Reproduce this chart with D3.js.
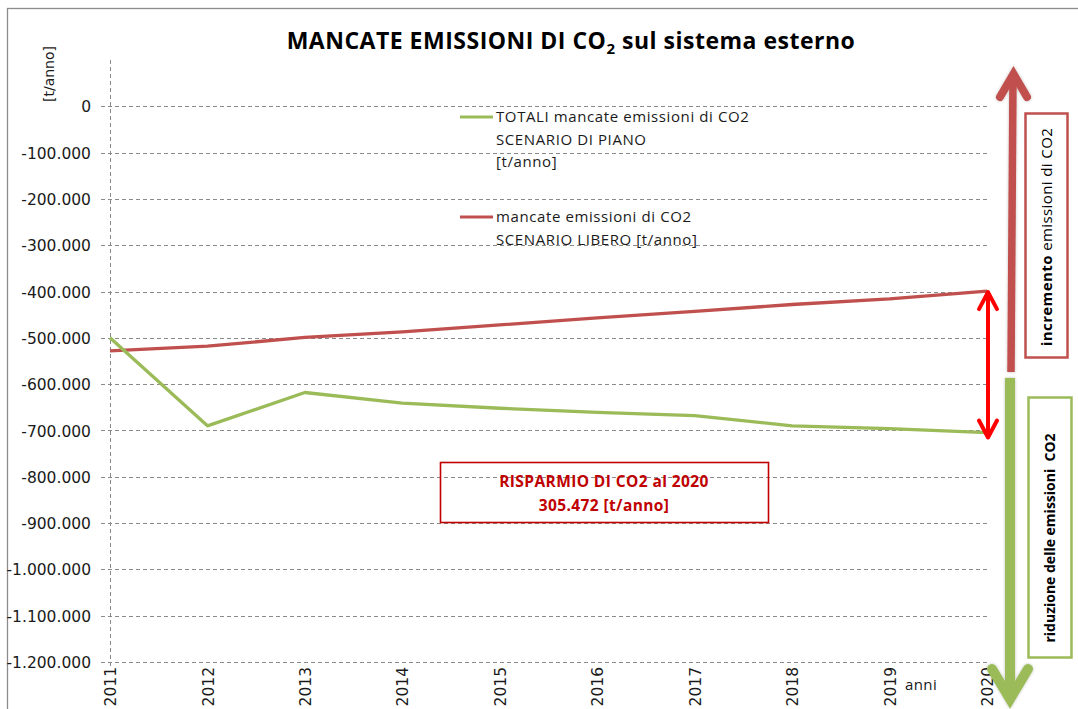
<!DOCTYPE html>
<html>
<head>
<meta charset="utf-8">
<script src="https://cdn.jsdelivr.net/npm/d3@7"></script>
<style>
  html, body { margin: 0; padding: 0; background: #fff; }
  svg { display: block; }
</style>
</head>
<body>
<svg id="chart" width="1078" height="709"></svg>
<script>
// Years on the horizontal axis
const years = [2011, 2012, 2013, 2014, 2015, 2016, 2017, 2018, 2019, 2020];
// Avoided CO2 emissions, plan scenario (t/year)
const pianoValues = [-500000, -690000, -618000, -641000, -652000, -661000, -668000, -690000, -696000, -704472];
// Avoided CO2 emissions, free scenario (t/year)
const liberoValues = [-528000, -518000, -499000, -487000, -472000, -457000, -443000, -428000, -416000, -399000];
// Y tick values
const yTicks = [0, -100000, -200000, -300000, -400000, -500000, -600000, -700000, -800000, -900000, -1000000, -1100000, -1200000];
// Legend entries
const legendPiano = ["TOTALI mancate emissioni di CO2", "SCENARIO DI PIANO", "[t/anno]"];
const legendLibero = ["mancate emissioni di CO2", "SCENARIO LIBERO [t/anno]"];
const savingsLabel = "RISPARMIO DI CO2 al 2020";

const GREEN = "#9bbb59", RED = "#c0504d", BRIGHT_RED = "#ff0000", DARK_RED = "#c00000";
const LABEL_FONT = "DejaVu Sans, Verdana, sans-serif";
const TEXT_FONT = "'Open Sans', Lato, sans-serif";

const it = d3.formatLocale({ decimal: ",", thousands: ".", grouping: [3], currency: ["", " €"], minus: "-" });
const fmt = it.format(",d");

const svg = d3.select("#chart");

// outer frame
svg.append("rect").attr("x", 7.5).attr("y", 8.5).attr("width", 1100).attr("height", 800)
  .attr("fill", "none").attr("stroke", "#8c8c8c").attr("stroke-width", 1.3);

const x = d3.scaleLinear().domain([2011, 2020]).range([110, 987]);
const y = d3.scaleLinear().domain([-1200000, 100000]).range([662, 60]);

// title
const title = svg.append("text").attr("x", 571).attr("y", 49).attr("text-anchor", "middle")
  .attr("font-family", TEXT_FONT).attr("font-weight", "bold").attr("font-size", 23)
  .attr("letter-spacing", 0.5).attr("fill", "#000");
title.append("tspan").text("MANCATE EMISSIONI DI CO");
title.append("tspan").attr("font-size", 15).attr("dy", 5).text("2");
title.append("tspan").attr("dy", -5).text(" sul sistema esterno");

// horizontal gridlines
const grid = svg.append("g");
grid.selectAll("line").data(yTicks).join("line")
  .attr("x1", 101).attr("x2", x(2020))
  .attr("y1", d => Math.round(y(d)) + 0.5).attr("y2", d => Math.round(y(d)) + 0.5)
  .attr("stroke", "#8a8a8a").attr("stroke-width", 1).attr("stroke-dasharray", "4,3");

// vertical axis line (dashed)
svg.append("line").attr("x1", x(2011) + 0.5).attr("x2", x(2011) + 0.5)
  .attr("y1", y(100000)).attr("y2", y(-1200000) + 6)
  .attr("stroke", "#8a8a8a").attr("stroke-width", 1).attr("stroke-dasharray", "4,3");

// y tick labels
const yAxis = d3.axisLeft(y).tickValues(yTicks).tickFormat(fmt).tickSize(0).tickPadding(0);
const ya = svg.append("g").attr("transform", "translate(91,0)").call(yAxis);
ya.select(".domain").remove();
ya.selectAll("text").attr("font-family", LABEL_FONT).attr("font-size", 15.5).attr("fill", "#1a1a1a").attr("dy", "0.36em");

// y axis title
svg.append("text").attr("transform", "translate(54,74) rotate(-90)").attr("text-anchor", "middle")
  .attr("font-family", LABEL_FONT).attr("font-size", 14).attr("fill", "#1a1a1a").text("[t/anno]");

// x tick labels (rotated)
const xAxis = d3.axisBottom(x).tickValues(years).tickFormat(d3.format("d")).tickSize(0).tickPadding(0);
const xa = svg.append("g").attr("transform", "translate(0,667)").call(xAxis);
xa.select(".domain").remove();
xa.selectAll("text")
  .attr("font-family", LABEL_FONT).attr("font-size", 15.5).attr("fill", "#1a1a1a")
  .attr("text-anchor", "end").attr("transform", "rotate(-90)")
  .attr("x", 0).attr("y", 0).attr("dy", "0.36em");

svg.append("text").attr("x", 905).attr("y", 690).attr("font-family", TEXT_FONT).attr("font-size", 15)
  .attr("letter-spacing", 0.4).attr("fill", "#1a1a1a").text("anni");

// series lines
const line = d3.line().x((d, i) => x(years[i])).y(d => y(d));
svg.append("path").datum(liberoValues).attr("d", line).attr("fill", "none")
  .attr("stroke", RED).attr("stroke-width", 3.3).attr("stroke-linejoin", "round");
svg.append("path").datum(pianoValues).attr("d", line).attr("fill", "none")
  .attr("stroke", GREEN).attr("stroke-width", 3.3).attr("stroke-linejoin", "round");

// legend
function legend(color, lines, y0) {
  svg.append("line").attr("x1", 460).attr("x2", 493).attr("y1", y0).attr("y2", y0)
    .attr("stroke", color).attr("stroke-width", 3.2);
  svg.append("g").selectAll("text").data(lines).join("text")
    .attr("x", 496).attr("y", (d, i) => y0 + 5 + i * 22.5)
    .attr("font-family", TEXT_FONT).attr("font-size", 15).attr("letter-spacing", 0.6)
    .attr("fill", "#1a1a1a").text(d => d);
}
legend(GREEN, legendPiano, 117);
legend(RED, legendLibero, 217);

// savings annotation box
const saving = liberoValues[liberoValues.length - 1] - pianoValues[pianoValues.length - 1];
svg.append("rect").attr("x", 440.5).attr("y", 462.5).attr("width", 328).attr("height", 60)
  .attr("fill", "none").attr("stroke", DARK_RED).attr("stroke-width", 1.6);
const savingLines = [savingsLabel, fmt(saving) + " [t/anno]"];
svg.append("g").selectAll("text").data(savingLines).join("text")
  .attr("x", 604).attr("y", (d, i) => 487 + i * 24).attr("text-anchor", "middle")
  .attr("font-family", TEXT_FONT).attr("font-weight", "bold").attr("font-size", 15.5)
  .attr("letter-spacing", 0.4).attr("fill", DARK_RED).text(d => d);

// double arrow between the two scenarios in 2020
const ax = x(2020) + 1;
const yTop = y(liberoValues[liberoValues.length - 1]);
const yBot = y(pianoValues[pianoValues.length - 1]);
const dbl = svg.append("g").attr("stroke", BRIGHT_RED).attr("fill", "none")
  .attr("stroke-width", 4).attr("stroke-linecap", "round").attr("stroke-linejoin", "round");
dbl.append("line").attr("x1", ax).attr("x2", ax).attr("y1", yTop + 2).attr("y2", yBot + 4);
dbl.append("polyline").attr("points", `${ax - 9},${yTop + 18} ${ax},${yTop + 1} ${ax + 9},${yTop + 18}`);
dbl.append("polyline").attr("points", `${ax - 9},${yBot - 12} ${ax},${yBot + 5} ${ax + 9},${yBot - 12}`);

// shadow for the large arrows
const defs = svg.append("defs");
const f = defs.append("filter").attr("id", "soft").attr("x", "-50%").attr("y", "-10%").attr("width", "200%").attr("height", "120%");
f.append("feDropShadow").attr("dx", 0).attr("dy", 0).attr("stdDeviation", 1.5).attr("flood-color", "#000").attr("flood-opacity", 0.25);

// large arrow: emission increase (up)
const up = svg.append("g").attr("stroke", RED).attr("fill", "none").attr("filter", "url(#soft)")
  .attr("stroke-linejoin", "miter");
up.append("line").attr("x1", 1011).attr("x2", 1013).attr("y1", 372).attr("y2", 76).attr("stroke-width", 7.5);
up.append("polyline").attr("points", "1000,97 1013.5,74 1027,97").attr("stroke-width", 8).attr("stroke-linecap", "round");

// large arrow: emission reduction (down)
const down = svg.append("g").attr("stroke", GREEN).attr("fill", "none").attr("filter", "url(#soft)");
down.append("line").attr("x1", 1010).attr("x2", 1010).attr("y1", 378).attr("y2", 698).attr("stroke-width", 10);
down.append("polyline").attr("points", "992,669 1010,699 1028,669").attr("stroke-width", 10).attr("stroke-linecap", "round").attr("stroke-linejoin", "miter");

// side boxes
svg.append("rect").attr("x", 1025.5).attr("y", 113.5).attr("width", 42).attr("height", 244)
  .attr("fill", "#fff").attr("stroke", RED).attr("stroke-width", 2.5);
const t1 = svg.append("text").attr("transform", "translate(1052,237) rotate(-90)").attr("text-anchor", "middle")
  .attr("font-family", TEXT_FONT).attr("font-size", 15).attr("letter-spacing", 0.4).attr("fill", "#000");
t1.append("tspan").attr("font-weight", "bold").text("incremento");
t1.append("tspan").text(" emissioni di CO2");

svg.append("rect").attr("x", 1028.5).attr("y", 397.5).attr("width", 43).attr("height", 260)
  .attr("fill", "#fff").attr("stroke", GREEN).attr("stroke-width", 2.5);
svg.append("text").attr("transform", "translate(1055,538) rotate(-90)").attr("text-anchor", "middle")
  .attr("font-family", TEXT_FONT).attr("font-weight", "bold").attr("font-size", 14)
  .attr("fill", "#000").attr("xml:space", "preserve").text("riduzione delle emissioni  CO2");
</script>
</body>
</html>
